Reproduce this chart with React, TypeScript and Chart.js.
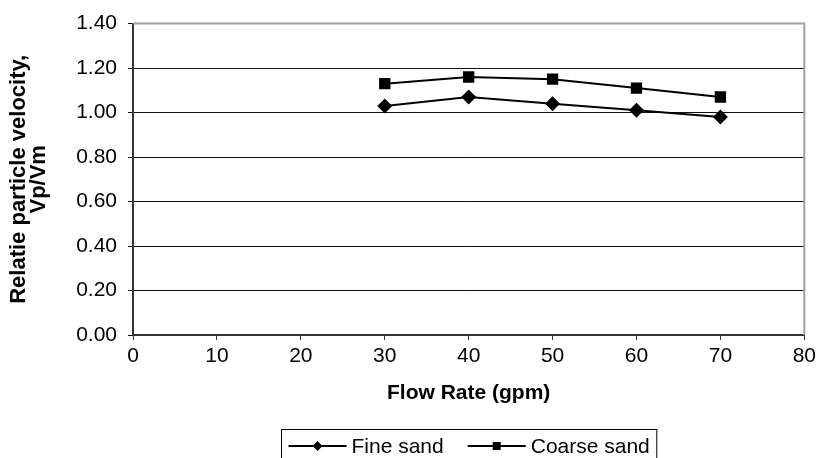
import React, { useEffect, useRef } from "react";
import { Chart, registerables } from "chart.js";

Chart.register(...registerables);

// Flow rates (gpm) and relative particle velocity Vp/Vm per sand grade
const flowRates = [30, 40, 50, 60, 70];
const fineSand = [1.03, 1.07, 1.04, 1.01, 0.98];
const coarseSand = [1.13, 1.16, 1.15, 1.11, 1.07];
const seriesLabels = ["Fine sand", "Coarse sand"];
const seriesMarkers = ["rectRot", "rect"];

const xTitle = "Flow Rate (gpm)";
const yTitle = ["Relatie particle velocity,", "Vp/Vm"];

const FONT = "'Liberation Sans', Arial, sans-serif";

// Boxed legend centred under the plot, drawn in the old spreadsheet style
const boxedLegend = {
  id: "boxedLegend",
  afterDraw(chart: any) {
    const { ctx, chartArea } = chart;
    ctx.save();
    ctx.font = `21px ${FONT}`;
    ctx.textBaseline = "middle";
    ctx.fillStyle = "#000";
    ctx.strokeStyle = "#000";
    const padL = 7;
    const lineLen = 58;
    const gapText = 5;
    const itemGap = 24;
    const padR = 7;
    const widths = seriesLabels.map((t) => ctx.measureText(t).width);
    let total = padL + padR;
    widths.forEach((w, i) => {
      total += lineLen + gapText + w + (i > 0 ? itemGap : 0);
    });
    const cx = (chartArea.left + chartArea.right) / 2;
    const boxLeft = Math.round(cx - total / 2) + 0.5;
    const boxTop = 429.5;
    ctx.lineWidth = 1;
    ctx.strokeRect(boxLeft, boxTop, total, 40);
    const cy = 446;
    let x = boxLeft + padL;
    seriesLabels.forEach((label, i) => {
      if (i > 0) x += itemGap;
      ctx.lineWidth = 2;
      ctx.beginPath();
      ctx.moveTo(x, cy);
      ctx.lineTo(x + lineLen, cy);
      ctx.stroke();
      const mx = x + lineLen / 2;
      ctx.beginPath();
      if (seriesMarkers[i] === "rectRot") {
        const r = 5;
        ctx.moveTo(mx, cy - r);
        ctx.lineTo(mx + r, cy);
        ctx.lineTo(mx, cy + r);
        ctx.lineTo(mx - r, cy);
        ctx.closePath();
      } else {
        ctx.rect(mx - 4, cy - 4, 8, 8);
      }
      ctx.fill();
      x += lineLen + gapText;
      ctx.fillText(label, x, cy + 1);
      x += widths[i];
    });
    ctx.restore();
  },
};

// Grey frame on the top and right edges of the plot area
const plotFrame = {
  id: "plotFrame",
  afterDatasetsDraw(chart: any) {
    const { ctx, chartArea } = chart;
    ctx.save();
    ctx.strokeStyle = "#a0a0a0";
    ctx.lineWidth = 2;
    ctx.beginPath();
    ctx.moveTo(chartArea.left, chartArea.top);
    ctx.lineTo(chartArea.right, chartArea.top);
    ctx.lineTo(chartArea.right, chartArea.bottom);
    ctx.stroke();
    ctx.restore();
  },
};

export default function App() {
  const ref = useRef<HTMLCanvasElement | null>(null);

  useEffect(() => {
    if (!ref.current) return;
    const chart = new Chart(ref.current, {
      type: "line",
      data: {
        datasets: [
          {
            label: seriesLabels[0],
            data: flowRates.map((x, i) => ({ x, y: fineSand[i] })),
            borderColor: "#000",
            backgroundColor: "#000",
            borderWidth: 2,
            pointStyle: "rectRot",
            pointRadius: 7.5,
            pointBorderWidth: 0,
            tension: 0,
          },
          {
            label: seriesLabels[1],
            data: flowRates.map((x, i) => ({ x, y: coarseSand[i] })),
            borderColor: "#000",
            backgroundColor: "#000",
            borderWidth: 2,
            pointStyle: "rect",
            pointRadius: 8,
            pointBorderWidth: 0,
            tension: 0,
          },
        ],
      },
      options: {
        animation: false,
        responsive: false,
        maintainAspectRatio: false,
        layout: { padding: { top: 20, right: 9, left: 0, bottom: 0 } },
        plugins: {
          legend: { display: false },
          tooltip: { enabled: false },
        },
        scales: {
          x: {
            type: "linear",
            min: 0,
            max: 80,
            ticks: {
              stepSize: 10,
              color: "#000",
              padding: 4,
              maxRotation: 0,
              font: { family: FONT, size: 21 },
            },
            grid: {
              drawOnChartArea: false,
              drawTicks: true,
              tickLength: 5,
              color: "#333",
              lineWidth: 1,
            },
            border: { color: "#333", width: 2 },
            title: {
              display: true,
              text: xTitle,
              color: "#000",
              font: { family: FONT, size: 21, weight: "bold" },
              padding: { top: 0, bottom: 52 },
            },
            afterFit(scale: any) {
              scale.height = 123;
            },
          },
          y: {
            type: "linear",
            min: 0,
            max: 1.4,
            ticks: {
              stepSize: 0.2,
              color: "#000",
              padding: 11,
              font: { family: FONT, size: 21 },
              callback: (v: any) => Number(v).toFixed(2),
            },
            grid: {
              drawTicks: true,
              tickLength: 5,
              color: "#111",
              lineWidth: 1,
            },
            border: { color: "#333", width: 2 },
            title: {
              display: true,
              text: yTitle,
              color: "#000",
              font: { family: FONT, size: 22, weight: "bold", lineHeight: 0.92 },
              padding: { top: 9, bottom: 0 },
            },
            afterFit(scale: any) {
              scale.width = 133;
            },
          },
        },
      },
      plugins: [plotFrame, boxedLegend],
    });
    return () => chart.destroy();
  }, []);

  return (
    <div style={{ position: "fixed", left: 0, top: 0, width: 820, height: 458, background: "#fff" }}>
      <canvas ref={ref} width={820} height={458} style={{ display: "block" }} />
    </div>
  );
}
